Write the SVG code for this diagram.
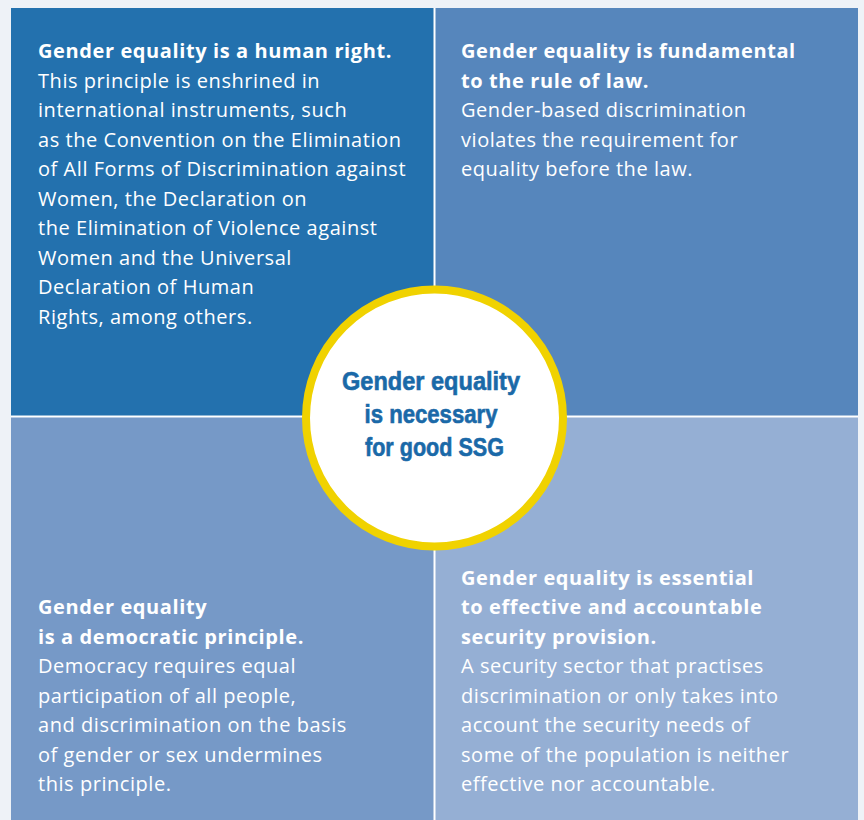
<svg xmlns="http://www.w3.org/2000/svg" width="864" height="820" viewBox="0 0 864 820">
  <style>
    .body { font-family: "Open Sans", "Noto Sans", "Liberation Sans", sans-serif; font-size: 20px; letter-spacing: 0.55px; fill: #ffffff; }
    .head { font-weight: bold; letter-spacing: 0.6px; }
    .hub { font-family: "Liberation Sans", Arial, sans-serif; font-weight: bold; font-size: 25px; fill: #1a69a8; stroke: #1a69a8; stroke-width: 0.6px; text-anchor: middle; }
  </style>
  <rect x="0" y="0" width="864" height="820" fill="#eef2f7"/>
  <rect x="11" y="8" width="847" height="812" fill="#ffffff"/>

  <g id="human-right">
    <rect x="11" y="8" width="422.5" height="407.5" fill="#2371ae"/>
    <text class="body">
      <tspan class="head" x="38" y="58">Gender equality is a human right.</tspan>
      <tspan x="38" y="87.5">This principle is enshrined in</tspan>
      <tspan x="38" y="117">international instruments, such</tspan>
      <tspan x="38" y="146.5">as the Convention on the Elimination</tspan>
      <tspan x="38" y="176">of All Forms of Discrimination against</tspan>
      <tspan x="38" y="205.5">Women, the Declaration on</tspan>
      <tspan x="38" y="235">the Elimination of Violence against</tspan>
      <tspan x="38" y="264.5">Women and the Universal</tspan>
      <tspan x="38" y="294">Declaration of Human</tspan>
      <tspan x="38" y="323.5">Rights, among others.</tspan>
    </text>
  </g>

  <g id="rule-of-law">
    <rect x="435.5" y="8" width="422.5" height="407.5" fill="#5686bc"/>
    <text class="body">
      <tspan class="head" x="461" y="58">Gender equality is fundamental</tspan>
      <tspan class="head" x="461" y="87.5">to the rule of law.</tspan>
      <tspan x="461" y="117">Gender-based discrimination</tspan>
      <tspan x="461" y="146.5">violates the requirement for</tspan>
      <tspan x="461" y="176">equality before the law.</tspan>
    </text>
  </g>

  <g id="democratic-principle">
    <rect x="11" y="417.5" width="422.5" height="402.5" fill="#7699c7"/>
    <text class="body">
      <tspan class="head" x="38" y="614">Gender equality</tspan>
      <tspan class="head" x="38" y="643.5">is a democratic principle.</tspan>
      <tspan x="38" y="673">Democracy requires equal</tspan>
      <tspan x="38" y="702.5">participation of all people,</tspan>
      <tspan x="38" y="732">and discrimination on the basis</tspan>
      <tspan x="38" y="761.5">of gender or sex undermines</tspan>
      <tspan x="38" y="791">this principle.</tspan>
    </text>
  </g>

  <g id="security-provision">
    <rect x="435.5" y="417.5" width="422.5" height="402.5" fill="#95afd4"/>
    <text class="body">
      <tspan class="head" x="461" y="584.5">Gender equality is essential</tspan>
      <tspan class="head" x="461" y="614">to effective and accountable</tspan>
      <tspan class="head" x="461" y="643.5">security provision.</tspan>
      <tspan x="461" y="673">A security sector that practises</tspan>
      <tspan x="461" y="702.5">discrimination or only takes into</tspan>
      <tspan x="461" y="732">account the security needs of</tspan>
      <tspan x="461" y="761.5">some of the population is neither</tspan>
      <tspan x="461" y="791">effective nor accountable.</tspan>
    </text>
  </g>

  <g id="hub">
    <circle cx="434.5" cy="418" r="128.5" fill="#ffffff" stroke="#f0d200" stroke-width="8"/>
    <text class="hub">
      <tspan x="434.5" y="390" textLength="178" lengthAdjust="spacingAndGlyphs">Gender equality</tspan>
      <tspan x="434.5" y="423" textLength="133" lengthAdjust="spacingAndGlyphs">is necessary</tspan>
      <tspan x="434.5" y="456" textLength="139" lengthAdjust="spacingAndGlyphs">for good SSG</tspan>
    </text>
  </g>
</svg>
